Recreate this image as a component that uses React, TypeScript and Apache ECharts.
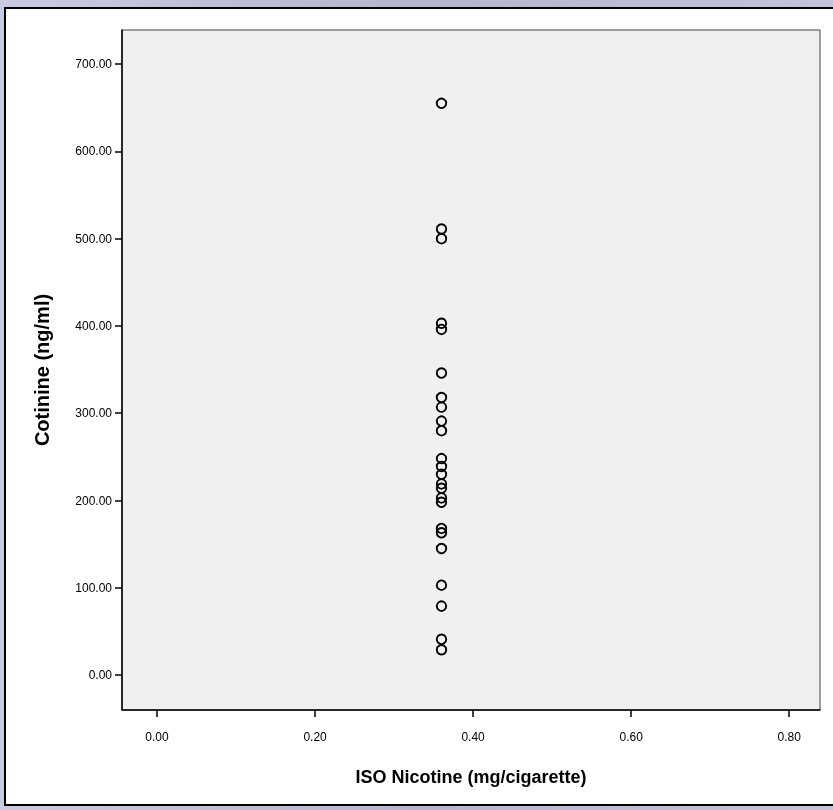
import React, { useEffect, useRef } from "react";
import * as echarts from "echarts";

const isoNicotine = [
  0.36, 0.36, 0.36, 0.36, 0.36, 0.36, 0.36, 0.36, 0.36, 0.36, 0.36, 0.36,
  0.36, 0.36, 0.36, 0.36, 0.36, 0.36, 0.36, 0.36, 0.36, 0.36, 0.36, 0.36,
];
const cotinine = [
  655, 511, 500, 403, 396, 346, 318, 307, 291, 280, 248, 239, 230, 219, 214,
  203, 198, 168, 163, 145, 103, 79, 41, 29,
];
const xTicks = [0, 0.2, 0.4, 0.6, 0.8];
const yTicks = [0, 100, 200, 300, 400, 500, 600, 700];

export default function App() {
  const ref = useRef<HTMLDivElement>(null);
  useEffect(() => {
    if (!ref.current) return;
    const chart = echarts.init(ref.current, null, { renderer: "svg" });
    const points = isoNicotine.map((x, i) => [x, cotinine[i]]);
    chart.setOption({
      animation: false,
      backgroundColor: "transparent",
      graphic: [
        {
          type: "rect",
          z: -10,
          silent: true,
          shape: { x: 0, y: 0, width: 833, height: 810 },
          style: {
            fill: new echarts.graphic.LinearGradient(0, 0, 1, 0, [
              { offset: 0, color: "#c9cce0" },
              { offset: 0.5, color: "#b3b6cc" },
              { offset: 1, color: "#c2c5da" },
            ]),
          },
        },
        {
          type: "rect",
          z: -9,
          silent: true,
          shape: { x: 5, y: 8, width: 840, height: 797 },
          style: { fill: "#ffffff", stroke: "#000000", lineWidth: 2 },
        },
      ],
      grid: {
        left: 122,
        top: 30,
        right: 13,
        bottom: 100,
        show: true,
        backgroundColor: "#f0f0f0",
        borderColor: "#444444",
        borderWidth: 1,
      },
      xAxis: {
        type: "value",
        min: -0.0443,
        max: 0.839,
        name: "ISO Nicotine (mg/cigarette)",
        nameLocation: "middle",
        nameGap: 58,
        nameTextStyle: {
          fontFamily: "Liberation Sans Narrow, Liberation Sans, Arial, sans-serif",
          fontWeight: "bold",
          fontSize: 18,
          color: "#000",
        },
        axisLine: { show: true, onZero: false, lineStyle: { color: "#000", width: 1.5 } },
        axisTick: {
          show: true,
          customValues: xTicks,
          length: 7,
          lineStyle: { color: "#000", width: 1.5 },
        },
        axisLabel: {
          customValues: xTicks,
          formatter: (v: number) => v.toFixed(2),
          fontFamily: "Liberation Sans Narrow, Liberation Sans, Arial, sans-serif",
          fontSize: 12,
          color: "#000",
          margin: 21,
        },
        splitLine: { show: false },
      },
      yAxis: {
        type: "value",
        min: -40,
        max: 739,
        name: "Cotinine (ng/ml)",
        nameLocation: "middle",
        nameGap: 70,
        nameTextStyle: {
          fontFamily: "Liberation Sans, Arial, sans-serif",
          fontWeight: "bold",
          fontSize: 20,
          color: "#000",
        },
        axisLine: { show: true, onZero: false, lineStyle: { color: "#000", width: 1.5 } },
        axisTick: {
          show: true,
          customValues: yTicks,
          length: 7,
          lineStyle: { color: "#000", width: 1.5 },
        },
        axisLabel: {
          customValues: yTicks,
          formatter: (v: number) => v.toFixed(2),
          fontFamily: "Liberation Sans, Arial, sans-serif",
          fontSize: 12,
          color: "#000",
          margin: 10,
        },
        splitLine: { show: false },
      },
      series: [
        {
          type: "scatter",
          data: points,
          symbol: "circle",
          symbolSize: 9.5,
          itemStyle: {
            color: "rgba(0,0,0,0)",
            borderColor: "#000",
            borderWidth: 1.9,
            opacity: 1,
          },
        },
      ],
    });
    return () => chart.dispose();
  }, []);
  return (
    <div
      ref={ref}
      style={{ position: "fixed", left: 0, top: 0, width: 833, height: 810 }}
    />
  );
}
